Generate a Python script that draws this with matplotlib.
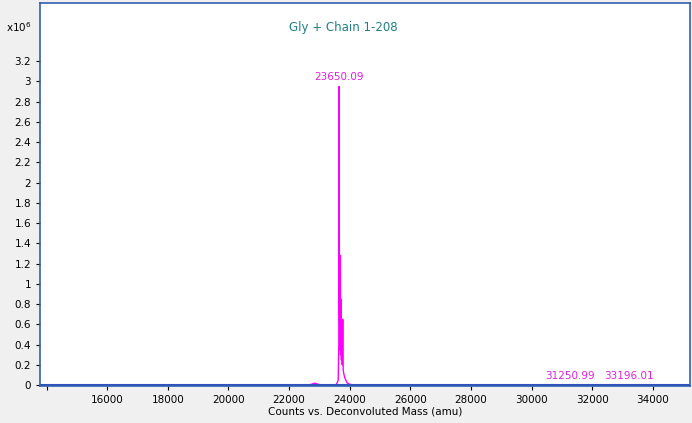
import matplotlib
matplotlib.use("Agg")
import matplotlib.pyplot as plt

mass = [13800, 22600, 22750, 22850, 22950, 23050, 23550, 23620, 23640, 23650, 23660, 23675, 23690, 23700,
        23710, 23725, 23740, 23755, 23770, 23785, 23800, 23830, 23870, 23920, 24000, 24100, 31200, 31250, 31300,
        33150, 33196, 33250, 35300]
inten = [0.0, 0.0, 0.01, 0.02, 0.01, 0.0, 0.0, 0.05, 0.4, 2.95, 0.9, 0.35, 1.28, 0.3,
         0.85, 0.25, 0.35, 0.2, 0.65, 0.15, 0.12, 0.08, 0.05, 0.02, 0.01, 0.0, 0.0, 0.004, 0.0,
         0.0, 0.004, 0.0, 0.0]
labels = [(23650.09, 2.95), (31250.99, 0.004), (33196.01, 0.004)]

fig = plt.figure(figsize=(6.92, 4.23), dpi=100, facecolor="#f0f0f0")
ax = fig.add_axes([0.058, 0.087, 0.939, 0.905])
ax.plot(mass, inten, color="#ff00ff", lw=1)
ax.axhline(0, color="#3050c0", lw=1.5)
for x, y in labels:
    ax.annotate(f"{x:.2f}", (x, y), xytext=(0, 3), textcoords="offset points",
                ha="center", va="bottom", color="#e020e0", fontsize=7.5)
ax.text(23800, 3.5, "Gly + Chain 1-208", color="#208080", ha="center", fontsize=8.5)
ax.set_xlim(13790, 35220)
ax.set_ylim(-0.01, 3.77)
ax.set_xticks(range(14000, 35000, 2000))
ax.set_xticklabels([""] + [str(v) for v in range(16000, 35000, 2000)])
yt = [i * 0.2 for i in range(17)]
ax.set_yticks(yt)
ax.set_yticklabels([f"{v:g}" for v in yt])
ax.tick_params(labelsize=7.5, length=3)
for s in ax.spines.values():
    s.set_color("#3060b0")
    s.set_linewidth(1.2)
ax.set_xlabel("Counts vs. Deconvoluted Mass (amu)", fontsize=7.5, labelpad=1)
fig.text(0.008, 0.925, "x10$^{6}$", fontsize=7.5)
fig.savefig("out.png", dpi=100, facecolor=fig.get_facecolor())
